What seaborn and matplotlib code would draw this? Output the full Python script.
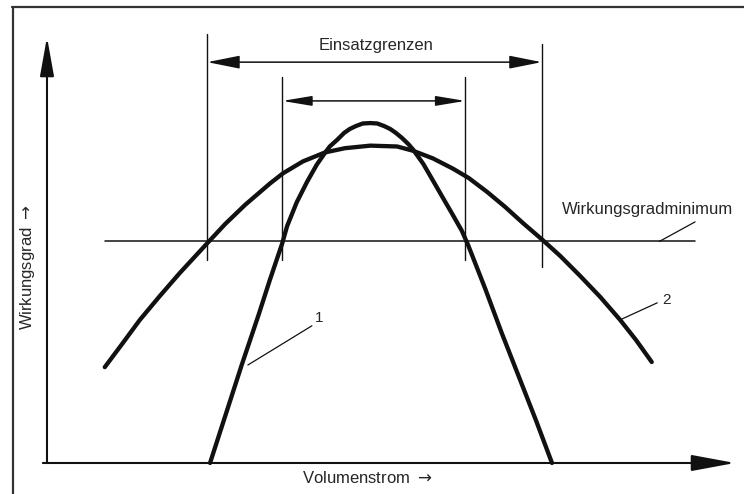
import matplotlib
matplotlib.use("Agg")
import matplotlib.pyplot as plt
import pandas as pd
import seaborn as sns


# ── Kennlinien (Volumenstrom / Wirkungsgrad in relativen Einheiten 0..100) ──
kurve1_q = [23.7, 26.0, 28.3, 30.7, 32.4, 34.2, 34.9, 36.3, 37.8, 39.2, 40.4,
            41.1, 42.2, 43.2, 44.0, 44.9, 45.9, 47.0, 48.0, 49.0, 49.9, 50.7,
            51.6, 52.5, 53.2, 54.7, 56.1, 57.6, 59.0, 60.3, 61.2, 63.7, 66.1,
            68.6, 71.1, 73.4]
kurve1_eta = [0.0, 11.5, 23.0, 34.5, 43.0, 51.6, 55.6, 61.2, 66.0, 70.0, 72.8,
              74.3, 75.9, 77.5, 78.4, 79.1, 79.7, 79.8, 79.7, 79.1, 78.4, 77.5,
              76.3, 74.9, 73.6, 70.2, 66.3, 62.1, 58.2, 54.5, 51.2, 40.9, 30.5,
              20.2, 9.9, 0.0]

kurve2_q = [8.4, 10.9, 13.5, 16.4, 19.3, 23.3, 25.9, 28.8, 32.4, 34.3, 37.2,
            40.4, 43.3, 47.0, 50.9, 53.2, 56.1, 59.0, 61.3, 64.0, 66.6, 69.2,
            72.0, 74.6, 77.5, 80.4, 83.3, 85.6, 87.9]
kurve2_eta = [22.5, 27.9, 33.6, 39.2, 44.6, 51.6, 56.1, 60.6, 65.6, 68.0, 70.8,
              72.9, 73.9, 74.5, 74.3, 73.3, 71.5, 69.1, 66.9, 63.6, 60.1, 56.3,
              52.4, 48.6, 43.9, 39.0, 33.6, 28.9, 23.7]

eta_min = 52.0                # Wirkungsgradminimum
grenzen_1 = [34.2, 60.8]      # Einsatzgrenzen Kurve 1
grenzen_2 = [23.3, 71.9]      # Einsatzgrenzen Kurve 2

INK = "#111111"


def _arrow(ax, start, tip, style, lw):
    ax.annotate("", xy=tip, xytext=start,
                arrowprops=dict(arrowstyle=style, color=INK, lw=lw,
                                shrinkA=0, shrinkB=0, mutation_scale=10),
                annotation_clip=False)


sns.set_style("white")
plt.rcParams["font.family"] = ["Liberation Sans", "DejaVu Sans"]

fig = plt.figure(figsize=(7.44, 4.94), dpi=100)
ax = fig.add_axes([0, 0, 1, 1])

df = pd.concat([
    pd.DataFrame({"Volumenstrom": kurve1_q, "Wirkungsgrad": kurve1_eta, "Kurve": "1"}),
    pd.DataFrame({"Volumenstrom": kurve2_q, "Wirkungsgrad": kurve2_eta, "Kurve": "2"}),
])
sns.lineplot(data=df, x="Volumenstrom", y="Wirkungsgrad", hue="Kurve",
             palette=[INK, INK], estimator=None, sort=False, legend=False,
             lw=3.1, ax=ax, solid_capstyle="round", solid_joinstyle="round")

# ── Wirkungsgradminimum ──
ax.plot([8.4, 94.2], [eta_min, eta_min], color=INK, lw=1.1)
ax.plot([94.2, 89.0], [56.6, eta_min], color=INK, lw=0.9)
ax.text(74.9, 59.4, "Wirkungsgradminimum", ha="left", va="center", fontsize=12)

# ── Einsatzgrenzen (Begrenzungslinien + Maßpfeile) ──
ax.plot([grenzen_2[0]] * 2, [47.7, 100.7], color=INK, lw=1.0)
ax.plot([grenzen_2[1]] * 2, [46.0, 98.4], color=INK, lw=1.0)
ax.plot([grenzen_1[0]] * 2, [47.7, 90.6], color=INK, lw=1.0)
ax.plot([grenzen_1[1]] * 2, [47.7, 90.6], color=INK, lw=1.0)
_arrow(ax, (grenzen_2[0], 94.1), (grenzen_2[1], 94.1),
       "<|-|>,head_length=2.0,head_width=0.4", 1.1)
_arrow(ax, (grenzen_1[0], 85.0), (grenzen_1[1], 85.0),
       "<|-|>,head_length=1.8,head_width=0.3", 1.1)
ax.text(47.8, 98.1, "Einsatzgrenzen", ha="center", va="center", fontsize=12)

# ── Kurvennummern ──
ax.plot([38.5, 29.2], [32.2, 23.0], color=INK, lw=0.9)
ax.text(39.5, 34.0, "1", ha="center", va="center", fontsize=11)
ax.plot([88.7, 83.3], [37.6, 33.6], color=INK, lw=0.9)
ax.text(90.1, 38.3, "2", ha="center", va="center", fontsize=11)

# ── Achsen mit Pfeilen ──
_arrow(ax, (-0.6, 0), (100, 0), "-|>,head_length=2.7,head_width=0.5", 1.5)
_arrow(ax, (0, 0), (0, 100), "-|>,head_length=2.4,head_width=0.43", 1.5)
ax.text(46.5, -3.5, "Volumenstrom $\\rightarrow$", ha="center", va="center",
        fontsize=12)
ax.text(-2.8, 46.0, "Wirkungsgrad $\\rightarrow$", ha="center", va="center",
        rotation=90, fontsize=12)

ax.set_xlim(-6.83, 101.31)
ax.set_ylim(-7.28, 108.69)
ax.set_axis_off()

# Rahmen (nur oben und links sichtbar)
ax.plot([0.016, 1.0], [0.9858, 0.9858], color="#333333", lw=1.6,
        transform=ax.transAxes, clip_on=False)
ax.plot([0.0175, 0.0175], [0.0, 0.9858], color="#333333", lw=1.6,
        transform=ax.transAxes, clip_on=False)

fig.savefig("out.png", dpi=100, facecolor="white")
plt.close(fig)
